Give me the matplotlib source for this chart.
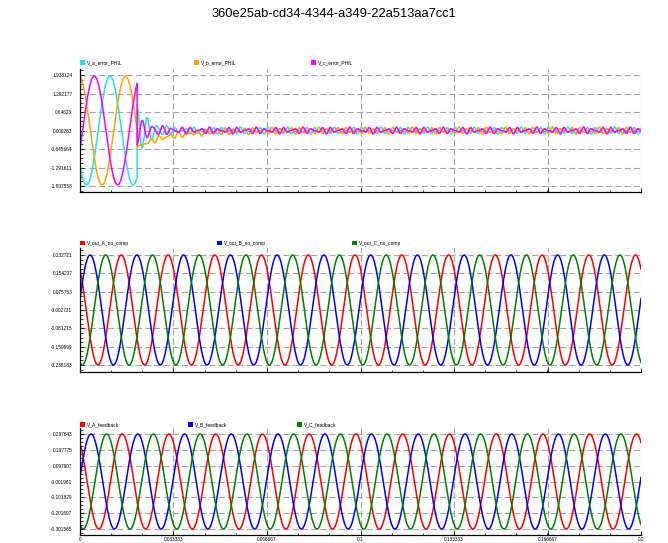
import numpy as np
import matplotlib
matplotlib.use("Agg")
import matplotlib.pyplot as plt
from matplotlib.patches import Rectangle
from matplotlib.ticker import FixedLocator, AutoMinorLocator, NullFormatter

plt.rcParams['font.family'] = ['Liberation Sans', 'DejaVu Sans']

title = "360e25ab-cd34-4344-a349-22a513aa7cc1"

# values
x_ticks = [0, 0.033333, 0.066667, 0.1, 0.133333, 0.166667, 0.2]
x_tick_labels = ["0", "0.033333", "0.066667", "0.1", "0.133333", "0.166667", "0.2"]

err_names = ["V_a_error_PHIL", "V_b_error_PHIL", "V_c_error_PHIL"]
err_ticks = [1.938124, 1.292177, 0.64623, 0.000283, -0.645664, -1.291611, -1.937558]
out_names = ["V_out_A_no_comp", "V_out_B_no_comp", "V_out_C_no_comp"]
out_ticks = [0.232721, 0.154237, 0.075753, -0.002731, -0.081215, -0.159699, -0.238183]
fb_names = ["V_A_feedback", "V_B_feedback", "V_C_feedback"]
fb_ticks = [0.297643, 0.197775, 0.097907, -0.001961, -0.101829, -0.201697, -0.301565]

grid_freq = 60.0              # Hz, from peak spacing
err_amp = 1.90                # error before compensation starts
err_phase_deg = [-140, 100, -20]
comp_start = 0.0204           # s, where the error collapses
err_jump = [0.90, -0.58, -0.50]       # value right after the switch
err_jump_decay = [0.004, 0.011, 0.004]
ring_freq = 280.0
resid_amp5 = 0.07
resid_amp7 = 0.05

out_amp, out_offset = 0.2355, -0.0027
out_phase_deg = [132, 12, -108]
fb_amp, fb_offset = 0.2996, -0.002
fb_phase_deg = [125, 5, -115]

err_colors = ["#22E4F0", "#FFA500", "#FF00FF"]
abc_colors = ["#FF0000", "#0000FF", "#008000"]

t = np.linspace(0, 0.2, 6001)
w = 2 * np.pi * grid_freq


def error_signal(k):
    ph = np.deg2rad(err_phase_deg[k])
    before = err_amp * np.sin(w * t + ph)
    dt = np.clip(t - comp_start, 0, None)
    shift = -2 * np.pi * k / 3
    ring = np.exp(-dt / err_jump_decay[k])
    if k == 1:
        settle = err_jump[k] * ring
    else:
        settle = err_jump[k] * ring * np.cos(2 * np.pi * ring_freq * dt)
    resid = (resid_amp5 * np.sin(5 * w * t + shift + 0.4)
             + resid_amp7 * np.sin(7 * w * t - shift + 1.1))
    resid *= 1 - np.exp(-dt / 0.003)
    return np.where(t < comp_start, before, settle + resid + err_ticks[3])


def fmt(v):
    return ("%.6f" % v).rstrip("0").rstrip(".")


def style_axes(ax, ticks, ylim, labels):
    ax.set_xlim(0, 0.2)
    ax.set_ylim(*ylim)
    ax.spines['top'].set_visible(False)
    ax.spines['right'].set_visible(False)
    for s in ("left", "bottom"):
        ax.spines[s].set_linewidth(0.9)
    ax.yaxis.set_major_locator(FixedLocator(ticks))
    ax.set_yticklabels([fmt(v) for v in ticks])
    ax.xaxis.set_major_locator(FixedLocator(x_ticks))
    ax.xaxis.set_minor_locator(AutoMinorLocator(3))
    ax.yaxis.set_minor_locator(AutoMinorLocator(4))
    if labels:
        ax.set_xticklabels(x_tick_labels)
    else:
        ax.xaxis.set_major_formatter(NullFormatter())
    ax.tick_params(axis='y', which='major', direction='in', length=3, width=0.6,
                   labelsize=3.4, pad=5.5)
    ax.tick_params(axis='y', which='minor', direction='in', length=1.8, width=0.5)
    ax.tick_params(axis='x', which='major', direction='in', length=3, width=0.6,
                   labelsize=3.4, pad=1.2)
    ax.tick_params(axis='x', which='minor', direction='in', length=1.8, width=0.5)
    ax.grid(True, which='major', color='#A6A6A6', linewidth=0.8,
            linestyle=(0, (5.5, 2.8)))
    ax.set_axisbelow(True)


def add_legend(fig, names, colors, xs, y):
    W, H = 668.0, 543.0
    for name, c, x in zip(names, colors, xs):
        fig.add_artist(Rectangle((x / W, 1 - (y + 2.3) / H), 4.6 / W, 4.6 / H,
                                 transform=fig.transFigure, color=c, lw=0))
        fig.text((x + 7) / W, 1 - y / H, name, fontsize=3.5, va='center', ha='left')


fig = plt.figure(figsize=(6.68, 5.43), dpi=100)
fig.text(0.5, 1 - 14 / 543, title, ha='center', va='center', fontsize=9.3)

ax1 = fig.add_axes([80 / 668, 1 - 192 / 543, 561 / 668, 123 / 543])
ax2 = fig.add_axes([80 / 668, 1 - 372 / 543, 561 / 668, 124 / 543])
ax3 = fig.add_axes([80 / 668, 1 - 535 / 543, 561 / 668, 107 / 543])

for k in range(3):
    ax1.plot(t, error_signal(k), color=err_colors[k], lw=1.1)
style_axes(ax1, err_ticks, (-2.147, 2.148), False)
add_legend(fig, err_names, err_colors, [80, 194, 311], 62.5)

for k in range(3):
    ax2.plot(t, out_offset + out_amp * np.sin(w * t + np.deg2rad(out_phase_deg[k])),
             color=abc_colors[k], lw=1.1)
style_axes(ax2, out_ticks, (-0.268, 0.2627), False)
add_legend(fig, out_names, abc_colors, [80, 217, 352], 243)

for k in range(3):
    ax3.plot(t, fb_offset + fb_amp * np.sin(w * t + np.deg2rad(fb_phase_deg[k])),
             color=abc_colors[k], lw=1.1)
style_axes(ax3, fb_ticks, (-0.3394, 0.3355), True)
add_legend(fig, fb_names, abc_colors, [80, 188, 297], 424.5)

fig.savefig("out.png", dpi=100)
